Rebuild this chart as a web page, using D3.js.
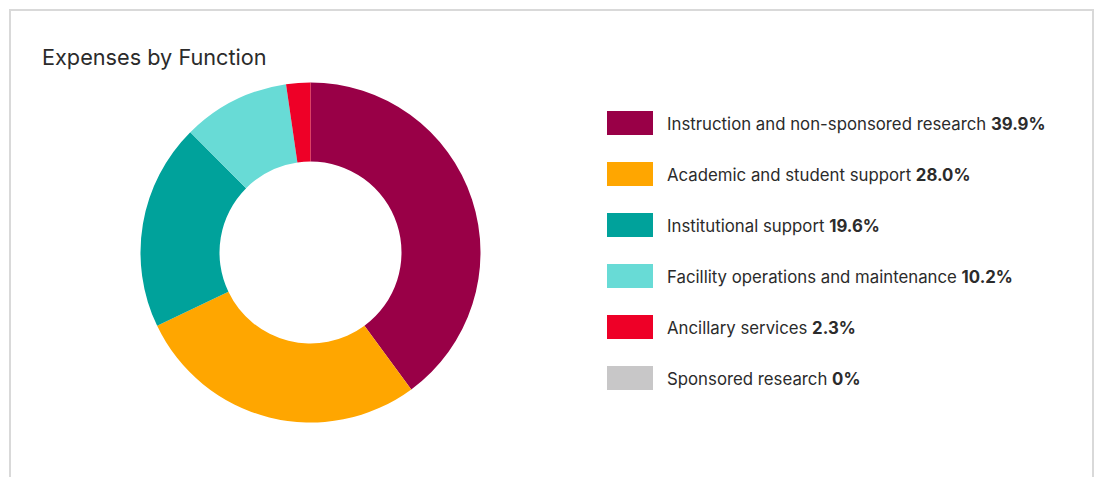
<!DOCTYPE html>
<html>
<head>
<meta charset="utf-8">
<script src="https://cdn.jsdelivr.net/npm/d3@7"></script>
<style>
  html, body { margin: 0; padding: 0; background: #fff; }
  body { width: 1095px; height: 477px; overflow: hidden; }
  text { font-family: Inter, "Open Sans", sans-serif; fill: #2b2b2b; }
</style>
</head>
<body>
<svg id="chart" width="1095" height="477"></svg>
<script>
// Expense shares by function (percent of total)
const categories = [
  "Instruction and non-sponsored research",
  "Academic and student support",
  "Institutional support",
  "Facillity operations and maintenance",
  "Ancillary services",
  "Sponsored research"
];
const values = [39.9, 28.0, 19.6, 10.2, 2.3, 0];
const valueLabels = ["39.9%", "28.0%", "19.6%", "10.2%", "2.3%", "0%"];
const colors = ["#990047", "#FFA600", "#00A29B", "#68DBD6", "#EE0027", "#C8C7C8"];

const svg = d3.select("#chart");

// card frame
svg.append("rect")
  .attr("x", 10).attr("y", 10)
  .attr("width", 1083).attr("height", 480)
  .attr("fill", "#fff")
  .attr("stroke", "#d9d9d9")
  .attr("stroke-width", 2);

svg.append("text")
  .attr("x", 42).attr("y", 65)
  .attr("font-size", 21.7)
  .text("Expenses by Function");

const data = categories.map((c, i) => ({ name: c, value: values[i], label: valueLabels[i], color: colors[i] }));

const color = d3.scaleOrdinal().domain(categories).range(colors);

const pie = d3.pie().sort(null).value(d => d.value);
const arc = d3.arc().innerRadius(91).outerRadius(170);

const g = svg.append("g").attr("transform", "translate(310.5,252.5)");
g.selectAll("path")
  .data(pie(data))
  .join("path")
  .attr("d", arc)
  .attr("fill", d => color(d.data.name));

// legend
const legendY = d3.scalePoint().domain(categories).range([111, 366]);
const legend = svg.append("g");
const rows = legend.selectAll("g")
  .data(data)
  .join("g")
  .attr("transform", d => `translate(607,${legendY(d.name)})`);

rows.append("rect")
  .attr("width", 46).attr("height", 24)
  .attr("fill", d => color(d.name));

const txt = rows.append("text")
  .attr("x", 60).attr("y", 18.5)
  .attr("font-size", 16.8);
txt.append("tspan").text(d => d.name + " ");
txt.append("tspan").attr("font-weight", 700).text(d => d.label);
</script>
</body>
</html>
